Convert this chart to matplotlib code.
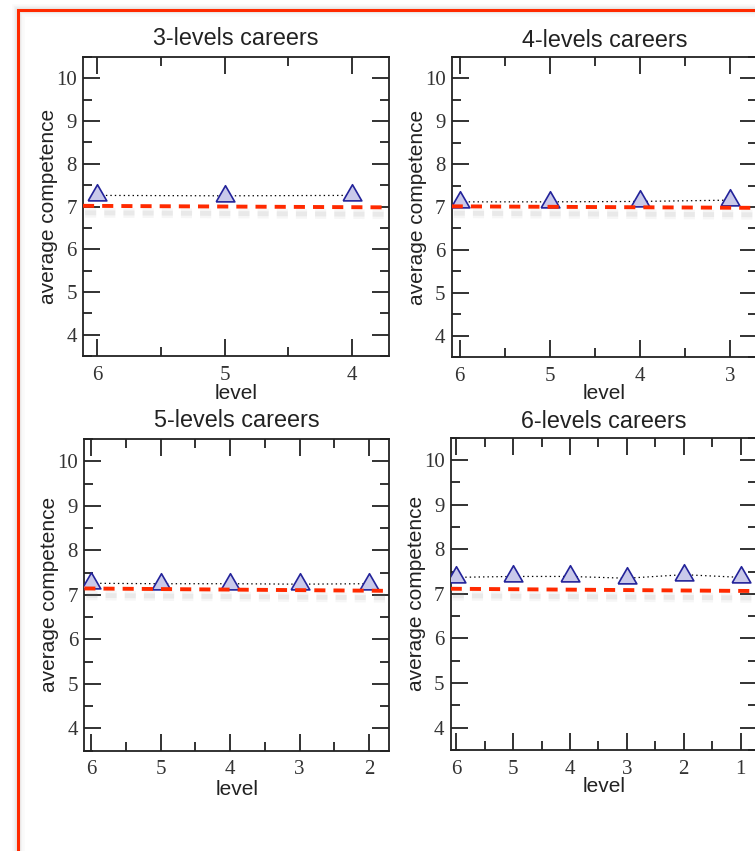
import numpy as np
import matplotlib
matplotlib.use("Agg")
import matplotlib.pyplot as plt
import matplotlib.patheffects as pe
from matplotlib.patches import Rectangle
from matplotlib.ticker import MultipleLocator, FormatStrFormatter

# data: levels, average competence per level, fitted (red) line
levels_3 = [6, 5, 4]
competence_3 = [7.26, 7.25, 7.26]
fit_3 = [7.014, 6.999, 6.984]

levels_4 = [6, 5, 4, 3]
competence_4 = [7.12, 7.12, 7.13, 7.16]
fit_4 = [7.015, 7.004, 6.994, 6.983]

levels_5 = [6, 5, 4, 3, 2]
competence_5 = [7.26, 7.25, 7.25, 7.24, 7.25]
fit_5 = [7.142, 7.130, 7.118, 7.106, 7.093]

levels_6 = [6, 5, 4, 3, 2, 1]
competence_6 = [7.37, 7.39, 7.39, 7.35, 7.43, 7.37]
fit_6 = [7.113, 7.104, 7.094, 7.085, 7.075, 7.066]

titles = ["3-levels careers", "4-levels careers", "5-levels careers", "6-levels careers"]
series = [
    (levels_3, competence_3, fit_3),
    (levels_4, competence_4, fit_4),
    (levels_5, competence_5, fit_5),
    (levels_6, competence_6, fit_6),
]

W, H = 755, 851
plt.rcParams["lines.scale_dashes"] = False

fig = plt.figure(figsize=(W / 100, H / 100), dpi=100)
fig.patch.set_facecolor("white")

# red frame of the screenshot, with a soft gray halo
for lw, a in [(9, 0.035), (6, 0.05), (4, 0.07)]:
    fig.patches.append(Rectangle((17.5 / W, -0.2), 1.5, 1.2 - 9.5 / H, transform=fig.transFigure,
                                 fill=False, edgecolor="gray", lw=lw, alpha=a, zorder=0))
fig.patches.append(Rectangle((17.5 / W, -0.2), 1.5, 1.2 - 9.5 / H, transform=fig.transFigure,
                             fill=False, edgecolor="#ff2a00", lw=2.2, zorder=1))

# axes boxes in pixels: left, right, top, bottom
boxes = [(83, 389, 57, 356), (451.7, 757, 57, 357), (84.3, 389.3, 439, 750.7), (450.7, 757, 437.7, 750)]
xlims = [(6.11, 3.71), (6.09, 2.70), (6.10, 1.71), (6.10, 0.71)]
title_pads = [8.6, 7.4, 8.9, 6.8]
xlabel_y = [-0.092, -0.089, -0.095, -0.087]

# triangle marker with its centroid on the data point
tri = [(-0.866, -0.5), (0.866, -0.5), (0, 1), (-0.866, -0.5)]

sans = "Liberation Sans"
serif = "Liberation Serif"
ink = "#222222"

for i, (lv, comp, fit) in enumerate(series):
    l, r, t, b = boxes[i]
    ax = fig.add_axes([l / W, 1 - b / H, (r - l) / W, (b - t) / H])
    ax.set_xlim(*xlims[i])
    ax.set_ylim(3.5, 10.5)

    ax.plot(lv, comp, color="black", lw=0.9, dashes=(1.0, 2.2), zorder=2)
    ax.plot(lv, comp, linestyle="none", marker=tri, markersize=15.5,
            markerfacecolor="#c9c9ea", markeredgecolor="#23239a", markeredgewidth=1.2, zorder=3)

    k, c = np.polyfit(lv, fit, 1)
    xs = np.array(ax.get_xlim())
    ax.plot(xs, k * xs + c, color="#ff2a00", lw=2.8, dashes=(8, 5.8), zorder=4,
            path_effects=[pe.SimpleLineShadow(offset=(1.5, -5), shadow_color="gray", alpha=0.07, linewidth=7),
                          pe.SimpleLineShadow(offset=(1.5, -5), shadow_color="gray", alpha=0.1, linewidth=3.5),
                          pe.Normal()])

    ax.xaxis.set_major_locator(MultipleLocator(1))
    ax.xaxis.set_minor_locator(MultipleLocator(0.5))
    ax.yaxis.set_major_locator(MultipleLocator(1))
    ax.yaxis.set_minor_locator(MultipleLocator(0.5))
    ax.xaxis.set_major_formatter(FormatStrFormatter("%d"))
    ax.yaxis.set_major_formatter(FormatStrFormatter("%d"))
    ax.tick_params(which="both", direction="in", top=True, right=True, width=1.3, color="#222222")
    ax.tick_params(which="major", length=12)
    ax.tick_params(which="minor", length=6.8)
    ax.tick_params(axis="x", which="major", pad=7)
    ax.tick_params(axis="y", which="major", pad=4.5)
    for lab in ax.get_xticklabels() + ax.get_yticklabels():
        lab.set_fontfamily(serif)
        lab.set_fontsize(15)
        lab.set_color("#333333")
    for s in ax.spines.values():
        s.set_linewidth(1.3)
        s.set_color("#222222")

    ax.set_title(titles[i], fontfamily=sans, fontsize=16.8, color=ink, pad=title_pads[i])
    ax.set_xlabel("level", fontfamily=sans, fontsize=15, color=ink)
    ax.set_ylabel("average competence", fontfamily=sans, fontsize=15, color=ink)
    ax.xaxis.set_label_coords(0.5, xlabel_y[i])
    ax.yaxis.set_label_coords(-0.082, 0.5)

fig.savefig("out.png", dpi=100)
